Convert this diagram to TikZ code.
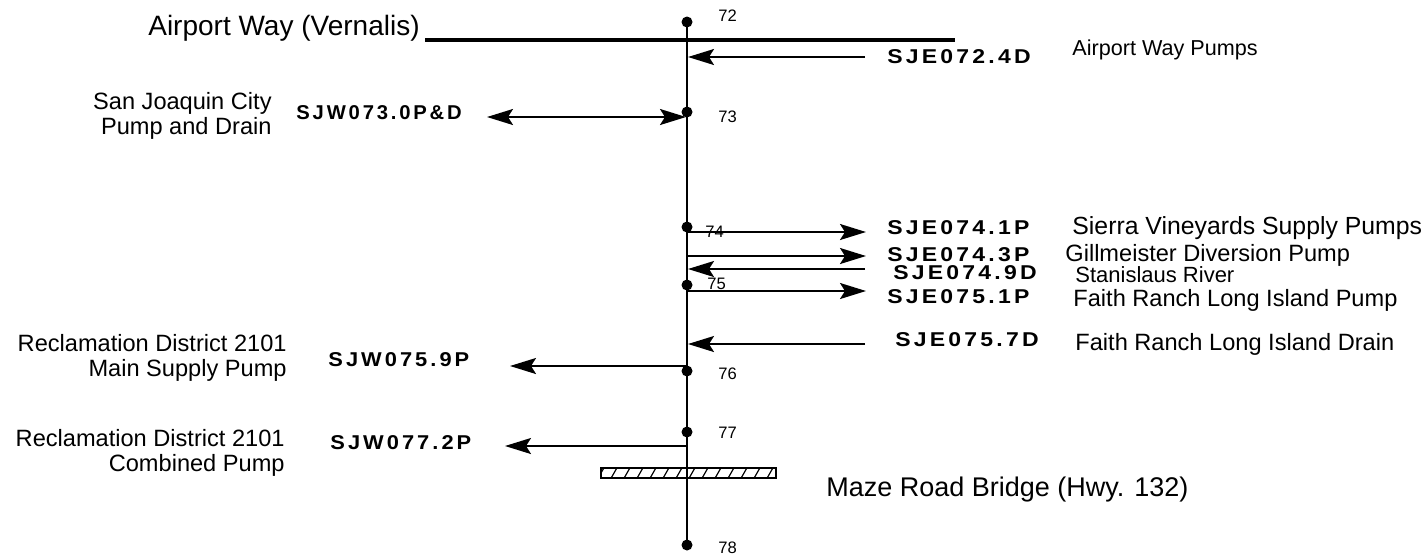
\documentclass[tikz,border=0pt]{standalone}
\usepackage{fontspec}
\setmainfont{Liberation Sans}
\newfontfamily\codefont{Liberation Sans}[LetterSpace=16,FakeStretch=1.15]
\usetikzlibrary{arrows.meta}
\tikzset{
  tip/.tip={Stealth[length=13pt,width=8pt,inset=2.5pt]},
  arr/.style={line width=1pt,-tip},
  darr/.style={line width=1pt,tip-tip},
  dot/.style={circle,fill,inner sep=0pt,minimum size=5.5pt},
  num/.style={font=\fontsize{8.3}{9}\selectfont,inner sep=0pt,anchor=west},
  code/.style={font=\codefont\bfseries\fontsize{10}{11}\selectfont,inner sep=0pt,anchor=west},
  desc/.style={font=\fontsize{11.8}{13}\selectfont,inner sep=0pt,anchor=west},
  ldesc/.style={font=\fontsize{11.8}{12.5}\selectfont,inner sep=0pt,anchor=east,align=right},
  big/.style={font=\fontsize{14}{16}\selectfont,inner sep=0pt},
  mainline/.style={line width=1pt},
  road/.style={line width=2pt}
}
\begin{document}
\begin{tikzpicture}[x=0.5pt,y=-0.5pt]
\useasboundingbox (0,0) rectangle (1424,559);
% river mile dots
\node[dot] (m72) at (687,22) {};
\node[dot] (m73) at (687,112) {};
\node[dot] (m74) at (687,227) {};
\node[dot] (m75) at (687,285) {};
\node[dot] (m76) at (687,371) {};
\node[dot] (m77) at (687,432) {};
\node[dot] (m78) at (687,545) {};
\draw[mainline] (m72.center) -- (m78.center);
% mile numbers
\node[num] (n72) at (718,16) {72};
\node[num] (n73) at (718,117) {73};
\node[num] (n74) at (705,232) {74};
\node[num] (n75) at (707,284) {75};
\node[num] (n76) at (718,374) {76};
\node[num] (n77) at (718,433) {77};
\node[num] (n78) at (718,548) {78};
% road
\node[big,anchor=east] (aw) at (420,28) {Airport Way (Vernalis)};
\coordinate (r1) at (425,40);
\coordinate (r2) at (955,40);
\draw[road] (r1) -- (r2);
% bridge
\coordinate (b1) at (601,468);
\coordinate (b2) at (776,478);
\begin{scope}
\clip (b1) rectangle (b2);
\foreach \i in {0,...,14} {\draw[line width=0.6pt] (597+\i*13,480) -- (605+\i*13,466);}
\end{scope}
\draw[line width=1pt] (b1) rectangle (b2);
\node[big,anchor=west,font=\fontsize{13.5}{16}\selectfont] (maze) at (826,490) {Maze Road Bridge (Hwy. 132)};
% SJE072.4D
\coordinate (s1) at (865,57); \coordinate (e1) at (688,57);
\draw[arr] (s1) -- (e1);
\node[code] (c1) at (887,57) {SJE072.4D};
\node[desc,font=\fontsize{10.8}{12}\selectfont] (d1) at (1072,50) {Airport Way Pumps};
% SJW073.0P&D
\coordinate (s2) at (487,117); \coordinate (e2) at (686,117);
\draw[darr] (s2) -- (e2);
\node[code] (c2) at (296,113) {\scalebox{0.88}[1]{SJW073.0P\&D}};
\node[ldesc] (d2) at (272,116) {San Joaquin City\\Pump and Drain};
% SJE074.1P
\coordinate (s3) at (687,232); \coordinate (e3) at (866,232);
\draw[arr] (s3) -- (e3);
\node[code] (c3) at (887,228) {SJE074.1P};
\node[desc,font=\fontsize{12.4}{13}\selectfont] (d3) at (1072,228) {Sierra Vineyards Supply Pumps};
% SJE074.3P
\coordinate (s4) at (687,256); \coordinate (e4) at (866,256);
\draw[arr] (s4) -- (e4);
\node[code] (c4) at (887,255) {SJE074.3P};
\node[desc] (d4) at (1065,255) {Gillmeister Diversion Pump};
% SJE074.9D
\coordinate (s5) at (865,269); \coordinate (e5) at (688,269);
\draw[arr] (s5) -- (e5);
\node[code] (c5) at (893,273) {SJE074.9D};
\node[desc,font=\fontsize{11}{12}\selectfont] (d5) at (1075,275) {Stanislaus River};
% SJE075.1P
\coordinate (s6) at (687,291); \coordinate (e6) at (866,291);
\draw[arr] (s6) -- (e6);
\node[code] (c6) at (887,297) {SJE075.1P};
\node[desc] (d6) at (1073,300) {Faith Ranch Long Island Pump};
% SJE075.7D
\coordinate (s7) at (865,344); \coordinate (e7) at (688,344);
\draw[arr] (s7) -- (e7);
\node[code] (c7) at (895,340) {SJE075.7D};
\node[desc] (d7) at (1075,344) {Faith Ranch Long Island Drain};
% SJW075.9P
\coordinate (s8) at (687,366); \coordinate (e8) at (510,366);
\draw[arr] (s8) -- (e8);
\node[code] (c8) at (328,360) {\scalebox{0.95}[1]{SJW075.9P}};
\node[ldesc] (d8) at (287,358) {Reclamation District 2101\\Main Supply Pump};
% SJW077.2P
\coordinate (s9) at (687,446); \coordinate (e9) at (505,446);
\draw[arr] (s9) -- (e9);
\node[code] (c9) at (330,443) {\scalebox{0.95}[1]{SJW077.2P}};
\node[ldesc] (d9) at (285,453) {Reclamation District 2101\\Combined Pump};
\end{tikzpicture}
\end{document}
